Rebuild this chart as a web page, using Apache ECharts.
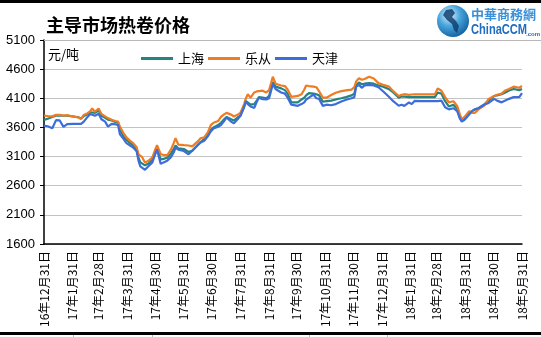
<!DOCTYPE html>
<html>
<head>
<meta charset="utf-8">
<script src="https://cdn.jsdelivr.net/npm/echarts@6/dist/echarts.min.js"></script>
<style>
  html, body { margin: 0; padding: 0; background: #fff; }
  #chart { width: 541px; height: 337px; }
</style>
</head>
<body>
<div id="chart"></div>
<script>
// Hot-rolled coil prices in the main markets (元/吨)
const dates = [
  '2016-12-31','2017-01-04','2017-01-09','2017-01-13','2017-01-17','2017-01-21','2017-01-25','2017-01-31',
  '2017-02-06','2017-02-09','2017-02-12','2017-02-16','2017-02-19','2017-02-21','2017-02-24','2017-02-28',
  '2017-03-03','2017-03-07','2017-03-10','2017-03-14','2017-03-18','2017-03-21','2017-03-23','2017-03-27','2017-03-30',
  '2017-04-03','2017-04-06','2017-04-10','2017-04-12','2017-04-14','2017-04-16','2017-04-19','2017-04-23','2017-04-27','2017-04-30',
  '2017-05-02','2017-05-06','2017-05-09','2017-05-13','2017-05-17','2017-05-20','2017-05-22','2017-05-25','2017-05-31',
  '2017-06-05','2017-06-09','2017-06-15','2017-06-18','2017-06-22','2017-06-26','2017-06-29',
  '2017-07-02','2017-07-07','2017-07-10','2017-07-13','2017-07-16','2017-07-21','2017-07-24','2017-07-28','2017-07-31',
  '2017-08-04','2017-08-06','2017-08-08','2017-08-11','2017-08-15','2017-08-18','2017-08-20','2017-08-24','2017-08-28','2017-08-31',
  '2017-09-04','2017-09-07','2017-09-13','2017-09-17','2017-09-20','2017-09-24','2017-09-26',
  '2017-10-01','2017-10-05','2017-10-08','2017-10-10','2017-10-13','2017-10-18','2017-10-21','2017-10-24','2017-10-28',
  '2017-11-01','2017-11-03','2017-11-06','2017-11-11','2017-11-17','2017-11-22','2017-11-28',
  '2017-12-01','2017-12-03','2017-12-06','2017-12-09','2017-12-12','2017-12-14','2017-12-17','2017-12-22','2017-12-27',
  '2018-01-01','2018-01-07','2018-01-12','2018-01-18','2018-01-21','2018-01-24','2018-01-29',
  '2018-02-01','2018-02-04','2018-02-12','2018-02-20','2018-02-26',
  '2018-03-01','2018-03-05','2018-03-09','2018-03-13','2018-03-18','2018-03-22','2018-03-25','2018-03-27','2018-03-30',
  '2018-04-04','2018-04-07','2018-04-10','2018-04-14','2018-04-20','2018-04-25',
  '2018-05-01','2018-05-04','2018-05-09','2018-05-13','2018-05-17','2018-05-22','2018-05-28','2018-05-31'
];

const shanghai = [
  3730,3750,3780,3800,3805,3800,3800,3790,
  3775,3755,3795,3825,3860,3890,3850,3890,
  3800,3765,3735,3720,3695,3680,3560,3440,3390,
  3330,3300,3210,3080,3000,3020,2950,2980,3050,3170,
  3260,3050,3060,3080,3150,3230,3290,3240,3230,
  3180,3200,3300,3350,3400,3470,3560,
  3600,3640,3680,3730,3780,3740,3720,3770,3800,
  3950,4050,4080,3990,4000,4070,4120,4110,4100,4140,
  4380,4300,4270,4240,4180,4030,4000,
  4030,4080,4110,4150,4190,4180,4170,4150,4040,
  4050,4040,4060,4080,4100,4120,4150,
  4180,4330,4370,4340,4350,4360,4360,4350,4320,
  4300,4260,4200,4111,4130,4130,4120,
  4120,4120,4120,4120,4120,
  4200,4180,4050,3960,3990,3920,3760,3720,3750,
  3850,3880,3910,3930,3990,4060,
  4140,4150,4170,4200,4235,4260,4240,4260
];

const lecong = [
  3805,3795,3790,3815,3815,3805,3810,3787,
  3770,3745,3815,3845,3880,3925,3870,3925,
  3830,3790,3760,3730,3710,3700,3610,3500,3430,
  3370,3335,3260,3140,3120,3090,3000,3030,3085,3220,
  3295,3140,3130,3120,3220,3330,3415,3305,3295,
  3290,3275,3360,3415,3430,3520,3640,
  3680,3710,3780,3820,3850,3820,3787,3820,3850,
  4000,4100,4170,4110,4200,4220,4230,4230,4200,4240,
  4470,4350,4320,4310,4250,4125,4120,
  4140,4170,4250,4320,4310,4300,4290,4220,4110,
  4110,4120,4155,4195,4222,4235,4250,
  4290,4390,4444,4417,4430,4444,4470,4440,4360,
  4330,4306,4222,4139,4160,4170,4160,
  4165,4167,4167,4167,4167,
  4270,4230,4120,4030,4050,3970,3820,3740,3780,
  3880,3850,3850,3910,3970,4090,
  4140,4160,4180,4235,4260,4300,4280,4310
];

const tianjin = [
  3630,3620,3585,3725,3720,3610,3655,3660,
  3660,3660,3700,3780,3830,3810,3800,3835,
  3740,3700,3615,3660,3655,3640,3480,3400,3330,
  3290,3260,3190,3030,2930,2960,2872,2940,3000,3140,
  3220,2975,3000,3030,3090,3170,3250,3220,3195,
  3140,3200,3300,3340,3370,3450,3530,
  3580,3610,3640,3700,3770,3700,3670,3740,3800,
  3950,4050,4000,3960,3935,4050,4110,4085,4080,4100,
  4340,4260,4200,4180,4110,3990,3956,
  3970,4000,4030,4080,4110,4165,4100,4090,3970,
  3990,3956,3980,4000,4044,4075,4100,
  4120,4300,4330,4280,4320,4340,4330,4320,4290,
  4220,4130,4050,3972,3990,3970,4028,
  4000,4055,4050,4050,4050,
  4050,4060,3945,3910,3930,3880,3750,3700,3730,
  3820,3880,3910,3930,3990,4020,
  4090,4060,4030,4060,4090,4120,4120,4190
];

// Month-end dates shown along the horizontal axis
const monthEnds = [
  '2016-12-31','2017-01-31','2017-02-28','2017-03-31','2017-04-30','2017-05-31','2017-06-30',
  '2017-07-31','2017-08-31','2017-09-30','2017-10-31','2017-11-30','2017-12-31',
  '2018-01-31','2018-02-28','2018-03-31','2018-04-30','2018-05-31'
];

const seriesNames = ['上海', '乐从', '天津'];
const seriesColors = ['#23857d', '#ef7b22', '#3d6ddb'];

function toTime(s) {
  const p = s.split('-').map(Number);
  return new Date(p[0], p[1] - 1, p[2]).getTime();
}

function pairs(values) {
  return dates.map((d, i) => [toTime(d), values[i]]);
}

const chart = echarts.init(document.getElementById('chart'), null, { renderer: 'canvas' });

const cjk = '"Noto Sans CJK SC", "Noto Sans", sans-serif';

chart.setOption({
  animation: false,
  backgroundColor: '#ffffff',
  grid: { left: 44, right: 19, top: 40, bottom: 93 },
  legend: {
    data: seriesNames,
    left: 136,
    top: 47,
    icon: 'rect',
    itemWidth: 32,
    itemHeight: 3,
    itemGap: 4,
    textStyle: { fontSize: 13, color: '#000', fontFamily: cjk }
  },
  xAxis: {
    type: 'value',
    min: toTime(monthEnds[0]),
    max: toTime(monthEnds[monthEnds.length - 1]),
    axisLine: { show: true, lineStyle: { color: '#000', width: 1.5 } },
    axisTick: { show: false },
    splitLine: { show: false },
    axisLabel: {
      customValues: monthEnds.map(toTime),
      rotate: 90,
      margin: 7,
      fontSize: 12,
      color: '#000',
      fontFamily: cjk,
      hideOverlap: false,
      formatter: function (v) {
        const d = new Date(v);
        return String(d.getFullYear()).slice(2) + '年' + (d.getMonth() + 1) + '月' + d.getDate() + '日';
      }
    }
  },
  yAxis: {
    type: 'value',
    min: 1600,
    max: 5100,
    interval: 500,
    axisLine: { show: true, lineStyle: { color: '#000', width: 1.5 } },
    axisTick: { show: true, length: 4, lineStyle: { color: '#000' } },
    axisLabel: {
      margin: 9,
      fontSize: 13,
      color: '#000',
      fontFamily: '"Liberation Sans", Arial, sans-serif',
      formatter: function (v) { return String(v); }
    },
    splitLine: { show: true, lineStyle: { color: '#c3c3c3', width: 1 } }
  },
  series: seriesNames.map((name, i) => ({
    name: name,
    type: 'line',
    data: pairs([shanghai, lecong, tianjin][i]),
    showSymbol: false,
    symbol: 'none',
    color: seriesColors[i],
    lineStyle: { width: 2.2, color: seriesColors[i] },
    z: 2 + i
  })),
  graphic: [
    // frame lines at the top and bottom edges
    { type: 'rect', z: 100, shape: { x: 0, y: 0, width: 541, height: 3 }, style: { fill: '#000' } },
    { type: 'rect', z: 100, shape: { x: 0, y: 332, width: 541, height: 5 }, style: { fill: '#000' } },
    { type: 'rect', z: 100, shape: { x: 0, y: 335, width: 541, height: 2 }, style: { fill: '#fff' } },
    { type: 'line', z: 100, shape: { x1: 73.5, y1: 335, x2: 73.5, y2: 337 }, style: { stroke: '#bbb', lineWidth: 1 } },
    { type: 'line', z: 100, shape: { x1: 152.5, y1: 335, x2: 152.5, y2: 337 }, style: { stroke: '#bbb', lineWidth: 1 } },
    { type: 'line', z: 100, shape: { x1: 309.5, y1: 335, x2: 309.5, y2: 337 }, style: { stroke: '#bbb', lineWidth: 1 } },
    { type: 'line', z: 100, shape: { x1: 387.5, y1: 335, x2: 387.5, y2: 337 }, style: { stroke: '#bbb', lineWidth: 1 } },
    // header rule under the title
    { type: 'line', z: 1, shape: { x1: 44, y1: 40.5, x2: 541, y2: 40.5 }, style: { stroke: '#b8b8b8', lineWidth: 1 } },
    // title
    {
      type: 'text', z: 100, x: 46, y: 25,
      style: { text: '主导市场热卷价格', fontSize: 18, fontWeight: 'bold', fill: '#000', fontFamily: cjk, textVerticalAlign: 'middle' }
    },
    // unit
    {
      type: 'text', z: 100, x: 48, y: 54,
      style: { text: '元/吨', fontSize: 13, fill: '#000', fontFamily: cjk, textVerticalAlign: 'middle' }
    },
    // site logo: globe
    {
      type: 'circle', z: 100, shape: { cx: 453, cy: 21, r: 16 },
      style: {
        fill: new echarts.graphic.RadialGradient(0.38, 0.32, 0.75, [
          { offset: 0, color: '#e4f5fd' },
          { offset: 0.45, color: '#4aa6dd' },
          { offset: 1, color: '#0e5c9c' }
        ])
      }
    },
    {
      type: 'polygon', z: 101,
      shape: { points: [[446, 10], [452, 9], [455, 13], [452, 17], [456, 21], [459, 26], [457, 33], [454, 30], [452, 24], [447, 20], [443, 15]] },
      style: { fill: '#123f6e', opacity: 0.85 }
    },
    {
      type: 'text', z: 100, x: 471, y: 14,
      style: { text: '中華商務網', fontSize: 13, fontWeight: 'bold', fill: '#3a8fd8', fontFamily: cjk, textVerticalAlign: 'middle' }
    },
    {
      type: 'text', z: 100, x: 471, y: 30, scaleX: 0.74,
      style: { text: 'ChinaCCM', fontSize: 15, fontWeight: 'bold', fill: '#1f6cc0', fontFamily: '"Liberation Sans", Arial, sans-serif', textVerticalAlign: 'middle' }
    },
    {
      type: 'text', z: 100, x: 526, y: 34,
      style: { text: '.com', fontSize: 6, fontWeight: 'bold', fill: '#1f6cc0', fontFamily: '"Liberation Sans", Arial, sans-serif', textVerticalAlign: 'middle' }
    }
  ]
});
</script>
</body>
</html>
